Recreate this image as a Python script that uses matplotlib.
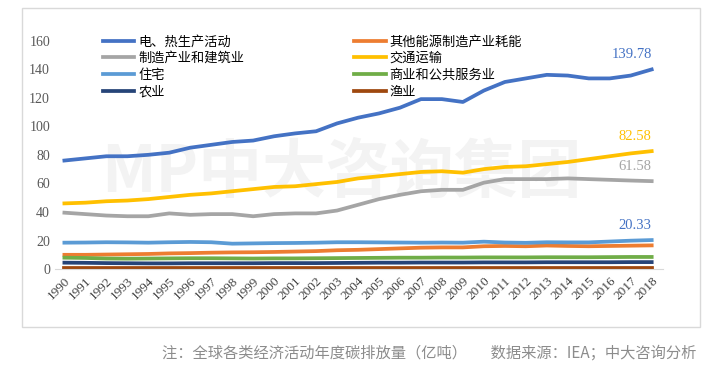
import matplotlib.pyplot as plt
import matplotlib.patches as patches

plt.rcParams["font.family"] = ["Noto Sans CJK SC", "DejaVu Sans"]
plt.rcParams["axes.unicode_minus"] = False

years = [str(y) for y in range(1990, 2019)]

power_heat = [76, 77.5, 79, 79, 80, 81.5, 85, 87, 89, 90, 93, 95, 96.5, 102, 106,
              109, 113, 119, 119, 117, 125, 131, 133.5, 136, 135.5, 133.5, 133.5, 135.5, 139.78]
other_energy = [10, 10, 10.2, 10.4, 10.6, 11, 11.2, 11.5, 11.7, 11.8, 12, 12.3, 12.6, 13.2, 13.5,
                14, 14.5, 15, 15.2, 15.2, 16, 16.2, 16, 16.5, 16.2, 16, 16.2, 16.4, 16.6]
manufacturing = [39.5, 38.5, 37.5, 37, 37, 39, 38, 38.5, 38.5, 37, 38.5, 39, 39, 41, 45,
                 49, 52, 54.5, 55.5, 55.5, 60.5, 63, 63, 63, 63.5, 63, 62.5, 62, 61.58]
transport = [46, 46.5, 47.5, 48, 49, 50.5, 52, 53, 54.5, 56, 57.5, 58, 59.5, 61, 63.5,
             65, 66.5, 68, 68.5, 67.5, 70, 71.5, 72, 73.5, 75, 77, 79, 81, 82.58]
residential = [18.5, 18.6, 18.8, 18.7, 18.5, 18.8, 19, 18.8, 17.8, 18, 18.2, 18.3, 18.5, 18.8, 18.8,
               18.7, 18.6, 18.5, 18.6, 18.5, 19.2, 18.6, 18.4, 18.8, 18.7, 18.7, 19.3, 19.9, 20.33]
commercial = [8, 7.8, 7.4, 7.3, 7.4, 7.5, 7.6, 7.6, 7.5, 7.4, 7.5, 7.5, 7.6, 7.7, 7.8,
              7.9, 8, 8, 8.1, 8.1, 8.2, 8.2, 8.2, 8.3, 8.3, 8.3, 8.4, 8.5, 8.5]
agriculture = [4.5, 4.4, 4.2, 4.1, 4, 4, 4.1, 4.1, 4.1, 4.1, 4.2, 4.2, 4.2, 4.3, 4.4,
               4.5, 4.5, 4.6, 4.6, 4.6, 4.7, 4.7, 4.7, 4.8, 4.8, 4.8, 4.8, 4.9, 4.9]
fishery = [1, 1, 1, 1, 1, 1, 1, 1, 1, 1, 1, 1, 1, 1, 1,
           1, 1, 1, 1, 1, 1, 1, 1, 1, 1, 1, 1, 1, 1]

fig = plt.figure(figsize=(7.28, 3.9), dpi=100)
ax = fig.add_axes([0.0755, 0.31, 0.8355, 0.586])

# 外框
fig.patches.append(patches.Rectangle((0.03, 0.162), 0.932, 0.818, transform=fig.transFigure,
                                     fill=False, edgecolor="#d9d9d9", linewidth=1))

# 水印
ax.text(0.47, 0.42, "MP中大咨询集团", transform=ax.transAxes, ha="center", va="center",
        fontsize=46, color="#f3f3f3", fontweight="bold", zorder=0)

x = list(range(len(years)))
lw = 2.7
l1, = ax.plot(x, power_heat, color="#4472C4", lw=lw, label="电、热生产活动")
l2, = ax.plot(x, other_energy, color="#ED7D31", lw=lw, label="其他能源制造产业耗能")
l3, = ax.plot(x, manufacturing, color="#A5A5A5", lw=lw, label="制造产业和建筑业")
l4, = ax.plot(x, transport, color="#FFC000", lw=lw, label="交通运输")
l5, = ax.plot(x, residential, color="#5B9BD5", lw=lw, label="住宅")
l6, = ax.plot(x, commercial, color="#70AD47", lw=lw, label="商业和公共服务业")
l7, = ax.plot(x, agriculture, color="#264478", lw=lw, label="农业")
l8, = ax.plot(x, fishery, color="#9E480E", lw=lw, label="渔业")

ax.set_xlim(-0.45, 28.55)
ax.set_ylim(0, 160)
ax.set_yticks(range(0, 161, 20))
ax.set_xticks(x)
ax.set_xticklabels(years, rotation=45, ha="right", rotation_mode="anchor",
                   fontsize=9.5, family="Liberation Serif", color="#404040")
for t in ax.get_yticklabels():
    t.set_family("Liberation Serif")
    t.set_fontsize(10)
    t.set_color("#595959")
ax.tick_params(axis="both", length=0)
ax.tick_params(axis="x", pad=4)
for s in ["top", "right", "left"]:
    ax.spines[s].set_visible(False)
ax.spines["bottom"].set_color("#d9d9d9")

# 数值标注
ann = [(power_heat, "#4472C4"), (transport, "#FFC000"),
       (manufacturing, "#A5A5A5"), (residential, "#4472C4")]
for vals, c in ann:
    ax.annotate(f"{vals[-1]:.2f}", (28, vals[-1]), xytext=(0, 6), textcoords="offset points",
                ha="right", va="bottom", color=c, fontsize=10.5, family="Liberation Serif")

ax.legend([l1, l3, l5, l7, l2, l4, l6, l8],
          [h.get_label() for h in [l1, l3, l5, l7, l2, l4, l6, l8]],
          ncol=2, frameon=False, loc="upper left", bbox_to_anchor=(0.07, 1.045),
          fontsize=9.5, handlelength=2.4, handletextpad=0.3, labelspacing=0.27,
          columnspacing=8.3, borderaxespad=0)

fig.text(0.957, 0.094, "注：全球各类经济活动年度碳排放量（亿吨）       数据来源：IEA；中大咨询分析",
         ha="right", va="center", fontsize=11, color="#8c8c8c")

fig.savefig("out.png", dpi=100)
